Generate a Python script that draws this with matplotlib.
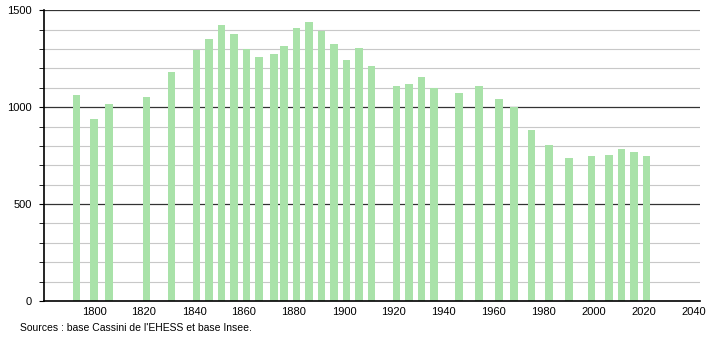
import matplotlib
matplotlib.use("Agg")
import matplotlib.pyplot as plt
import numpy as np

# census years and population
years = [1793, 1800, 1806, 1821, 1831, 1841, 1846, 1851, 1856, 1861, 1866,
         1872, 1876, 1881, 1886, 1891, 1896, 1901, 1906, 1911, 1921, 1926,
         1931, 1936, 1946, 1954, 1962, 1968, 1975, 1982, 1990, 1999, 2006,
         2011, 2016, 2021]
population = [1065, 941, 1015, 1051, 1182, 1297, 1350, 1422, 1376, 1302, 1259,
              1273, 1314, 1410, 1441, 1395, 1324, 1242, 1307, 1215, 1111, 1122,
              1154, 1099, 1072, 1108, 1041, 1000, 881, 804, 740, 749, 752,
              785, 771, 747]
xticks = [1800, 1820, 1840, 1860, 1880, 1900, 1920, 1940, 1960, 1980, 2000, 2020, 2040]
yticks = [0, 500, 1000, 1500]

plt.rcParams['font.family'] = ['Liberation Sans', 'DejaVu Sans']

fig = plt.figure(figsize=(7.1, 3.4), dpi=100)
ax = fig.add_axes([0.062, 0.1147, 0.924, 0.855])

## light grid every 100, dark every 500
for v in range(100, 1500, 100):
    if v % 500:
        ax.axhline(v, color='#c8c8c8', lw=0.8, zorder=0)
for v in yticks[1:]:
    ax.axhline(v, color='#333333', lw=0.9, zorder=0)

ax.bar(years, population, width=3.0, color='#a9e2a9', zorder=2)

ax.set_xlim(1780, 2042.5)
ax.set_ylim(0, 1500)
ax.set_xticks(xticks)
ax.set_yticks(yticks)
ax.set_yticks(range(0, 1501, 100), minor=True)
ax.tick_params(axis='x', length=0, labelsize=8, pad=4)
ax.tick_params(axis='y', which='major', length=3.5, labelsize=8, pad=5)
ax.tick_params(axis='y', which='minor', length=3.5)
for s in ['top', 'right']:
    ax.spines[s].set_visible(False)
ax.spines['left'].set_linewidth(1.2)
ax.spines['bottom'].set_linewidth(1.2)

fig.text(0.028, 0.026, "Sources : base Cassini de l'EHESS et base Insee.", fontsize=7.5)

fig.savefig('out.png', dpi=100)
